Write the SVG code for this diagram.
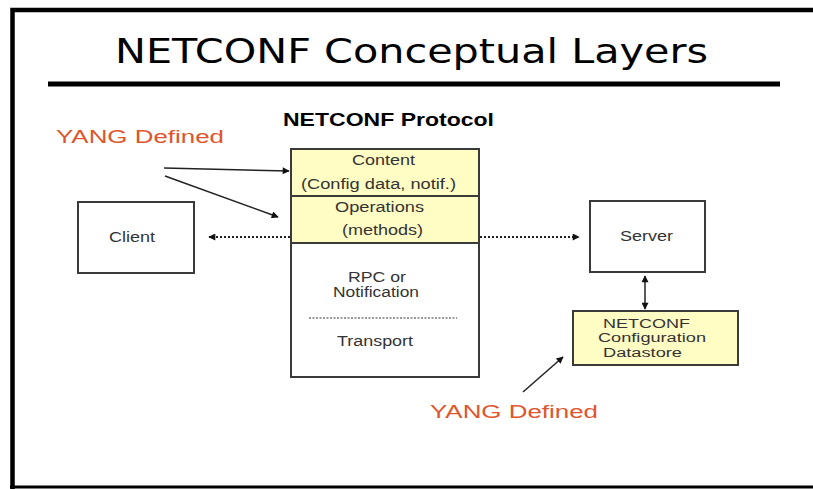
<svg xmlns="http://www.w3.org/2000/svg" width="813" height="489" viewBox="0 0 813 489">
<style>
.t{font-family:"Liberation Sans",Arial,sans-serif;font-size:14px;fill:#333}
.s{font-size:12.5px}
.y{font-family:"Liberation Sans",Arial,sans-serif;font-size:18px;fill:#E0552C}
.box{fill:#fff;stroke:#3a3a3a;stroke-width:2}
.yel{fill:#FFFCC4;stroke:#3a3a3a;stroke-width:2}
.ln{stroke:#222;stroke-width:1.5;fill:none}
.dot{stroke:#222;stroke-width:2;stroke-dasharray:2 2;fill:none}
</style>
<defs>
<marker id="ah" viewBox="0 0 10 10" refX="9" refY="5" markerWidth="9" markerHeight="7" markerUnits="userSpaceOnUse" orient="auto-start-reverse">
<path d="M0,0 L10,5 L0,10 z" fill="#111"/>
</marker>
</defs>
<rect width="813" height="489" fill="#fff"/>
<g id="frame">
<path d="M12.5,489 V10 H813" fill="none" stroke="#000" stroke-width="4.5"/>
<line x1="10" y1="487" x2="813" y2="487" stroke="#000" stroke-width="3"/>
</g>
<g id="title">
<text x="115" y="63" font-family="DejaVu Sans,Verdana,sans-serif" font-size="33" fill="#000" textLength="593" lengthAdjust="spacingAndGlyphs">NETCONF Conceptual Layers</text>
<line x1="48" y1="84" x2="780" y2="84" stroke="#000" stroke-width="5"/>
</g>
<g id="protocol-label">
<text x="283" y="126" font-family="Liberation Sans,Arial,sans-serif" font-weight="bold" font-size="18" fill="#000" textLength="211" lengthAdjust="spacingAndGlyphs">NETCONF Protocol</text>
</g>
<g id="yang1">
<text class="y" x="56" y="143" textLength="168" lengthAdjust="spacingAndGlyphs">YANG Defined</text>
</g>
<g id="yang2">
<text class="y" x="430" y="418" textLength="168" lengthAdjust="spacingAndGlyphs">YANG Defined</text>
</g>
<g id="client">
<rect class="box" x="78" y="202" width="116" height="71"/>
<text class="t" x="109" y="242" textLength="46" lengthAdjust="spacingAndGlyphs">Client</text>
</g>
<g id="stack">
<rect class="box" x="291" y="149" width="188" height="228"/>
<rect class="yel" x="291" y="149" width="188" height="47"/>
<rect class="yel" x="291" y="196" width="188" height="47"/>
<text class="t" x="352" y="165" textLength="63" lengthAdjust="spacingAndGlyphs">Content</text>
<text class="t" x="301" y="189" textLength="155" lengthAdjust="spacingAndGlyphs">(Config data, notif.)</text>
<text class="t" x="335" y="212" textLength="89" lengthAdjust="spacingAndGlyphs">Operations</text>
<text class="t" x="342" y="235" textLength="81" lengthAdjust="spacingAndGlyphs">(methods)</text>
<text class="t" x="348" y="282" textLength="58" lengthAdjust="spacingAndGlyphs">RPC or</text>
<text class="t" x="333" y="297" textLength="86" lengthAdjust="spacingAndGlyphs">Notification</text>
<line x1="309" y1="318" x2="457" y2="318" stroke="#333" stroke-width="1" stroke-dasharray="2 1.5"/>
<text class="t" x="337" y="346" textLength="76" lengthAdjust="spacingAndGlyphs">Transport</text>
</g>
<g id="server">
<rect class="box" x="590" y="201" width="115" height="71"/>
<text class="t" x="620" y="241" textLength="53" lengthAdjust="spacingAndGlyphs">Server</text>
</g>
<g id="datastore">
<rect class="yel" x="573" y="311" width="165" height="54"/>
<text class="t s" x="603" y="328" textLength="87" lengthAdjust="spacingAndGlyphs">NETCONF</text>
<text class="t s" x="598" y="342" textLength="108" lengthAdjust="spacingAndGlyphs">Configuration</text>
<text class="t s" x="603" y="357" textLength="79" lengthAdjust="spacingAndGlyphs">Datastore</text>
</g>
<g id="connectors">
<line class="ln" x1="164" y1="168" x2="289" y2="171" marker-end="url(#ah)"/>
<line class="ln" x1="165" y1="176" x2="278" y2="217" marker-end="url(#ah)"/>
<line class="ln" x1="523" y1="392" x2="563" y2="357" marker-end="url(#ah)"/>
<line class="dot" x1="290" y1="237" x2="209" y2="237" marker-end="url(#ah)"/>
<line class="dot" x1="480" y1="237" x2="579" y2="237" marker-end="url(#ah)"/>
<line class="ln" x1="645" y1="276" x2="645" y2="309" marker-start="url(#ah)" marker-end="url(#ah)"/>
</g>
</svg>
